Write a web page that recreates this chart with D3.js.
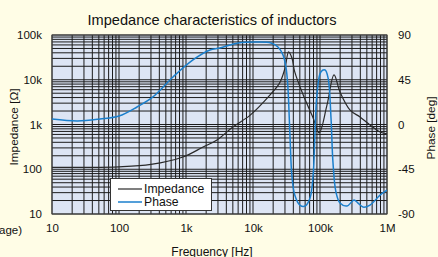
<!DOCTYPE html>
<html>
<head>
<meta charset="utf-8">
<script src="https://cdn.jsdelivr.net/npm/d3@7"></script>
<style>
  html, body { margin: 0; padding: 0; background: #fffde6; }
  svg { display: block; font-family: "Liberation Sans", Arial, sans-serif; }
</style>
</head>
<body>
<div id="chart"></div>
<script>
// Impedance curve [Hz, ohm]
var impFreq = [10, 30, 100, 300, 900, 1800, 2900, 5000, 9000, 18000, 25000, 30000, 34000, 38000, 42000, 56000, 79000, 97000, 127000, 162000, 199000, 281000, 396000, 558000, 787000, 1000000];
var impValue = [110, 110, 113, 128, 188, 314, 450, 880, 1600, 4600, 8500, 18000, 42000, 31000, 15000, 4600, 1400, 650, 2700, 12800, 5300, 2100, 1470, 975, 680, 614];

// Phase curve [Hz, deg]
var phaseFreq = [10, 24, 52, 100, 186, 321, 640, 1270, 2280, 3200, 6000, 11900, 18600, 23600, 28000, 31000, 33000, 35600, 38000, 42000, 50000, 60000, 71000, 79000, 84000, 90000, 103000, 119000, 132000, 146000, 156000, 173000, 199000, 253000, 322000, 369000, 438000, 558000, 787000, 1000000];
var phaseValue = [5.5, 3.5, 5.5, 8.5, 17.6, 27.7, 47.8, 64.9, 74.9, 76.9, 82, 83, 82, 78, 70, 58, 40, -10.6, -50.8, -70.9, -81, -82, -74, -50.8, -10.6, 29.7, 52.8, 54.8, 46.8, 6.5, -37.7, -67.9, -79, -82, -76, -79, -83, -81, -71, -66];

// tick labels
var xTicks = [10, 100, 1e3, 1e4, 1e5, 1e6];
var xTickLabels = ['10', '100', '1k', '10k', '100k', '1M'];
var zTicks = [10, 100, 1e3, 1e4, 1e5];
var zTickLabels = ['10', '100', '1k', '10k', '100k'];
var pTicks = [-90, -45, 0, 45, 90];

var width = 438, height = 257;
var pLeft = 52, pRight = 387, pTop = 35, pBottom = 214;

var svg = d3.select('#chart').append('svg')
    .attr('width', width)
    .attr('height', height);

svg.append('rect')
    .attr('width', width).attr('height', height)
    .attr('fill', '#fffde6');

var x = d3.scaleLog().domain([10, 1e6]).range([pLeft, pRight]);
var yZ = d3.scaleLog().domain([10, 1e5]).range([pBottom, pTop]);
var yP = d3.scaleLinear().domain([-90, 90]).range([pBottom, pTop]);

// plot background
svg.append('rect')
    .attr('x', pLeft).attr('y', pTop)
    .attr('width', pRight - pLeft).attr('height', pBottom - pTop)
    .attr('fill', '#dde5f4');

// log grid
var grid = svg.append('g').attr('stroke', '#1c1c1c').attr('stroke-width', 1);
grid.selectAll('line.v')
    .data(x.ticks())
    .enter().append('line')
      .attr('class', 'v')
      .attr('x1', function(d) { return x(d); })
      .attr('x2', function(d) { return x(d); })
      .attr('y1', pTop).attr('y2', pBottom);
grid.selectAll('line.h')
    .data(yZ.ticks())
    .enter().append('line')
      .attr('class', 'h')
      .attr('y1', function(d) { return yZ(d); })
      .attr('y2', function(d) { return yZ(d); })
      .attr('x1', pLeft).attr('x2', pRight);

svg.append('rect')
    .attr('x', pLeft).attr('y', pTop)
    .attr('width', pRight - pLeft).attr('height', pBottom - pTop)
    .attr('fill', 'none')
    .attr('stroke', '#444');

// curves
svg.append('clipPath').attr('id', 'clip')
  .append('rect')
    .attr('x', pLeft).attr('y', pTop)
    .attr('width', pRight - pLeft).attr('height', pBottom - pTop);

var plot = svg.append('g').attr('clip-path', 'url(#clip)');

var impLine = d3.line()
    .x(function(d, i) { return x(impFreq[i]); })
    .y(function(d) { return yZ(d); })
    .curve(d3.curveCatmullRom.alpha(0.5));

var phaseLine = d3.line()
    .x(function(d, i) { return x(phaseFreq[i]); })
    .y(function(d) { return yP(d); })
    .curve(d3.curveCatmullRom.alpha(0.5));

plot.append('path')
    .attr('d', impLine(impValue))
    .attr('fill', 'none')
    .attr('stroke', '#2a2a2a')
    .attr('stroke-width', 1.2);

plot.append('path')
    .attr('d', phaseLine(phaseValue))
    .attr('fill', 'none')
    .attr('stroke', '#1b7fcc')
    .attr('stroke-width', 1.5);

// axes
var tickFont = '11.5px';

svg.append('g')
    .attr('transform', 'translate(0,' + (pBottom + 7) + ')')
    .call(d3.axisBottom(x).tickValues(xTicks).tickSize(0)
      .tickFormat(function(d, i) { return xTickLabels[i]; }))
    .call(function(g) { g.select('.domain').remove(); })
    .selectAll('text')
      .attr('fill', '#111')
      .style('font-size', tickFont)
      .style('font-family', '"Liberation Sans", Arial, sans-serif');

svg.append('g')
    .attr('transform', 'translate(' + (pLeft - 7) + ',0)')
    .call(d3.axisLeft(yZ).tickValues(zTicks).tickSize(0)
      .tickFormat(function(d, i) { return zTickLabels[i]; }))
    .call(function(g) { g.select('.domain').remove(); })
    .selectAll('text')
      .attr('fill', '#111')
      .style('font-size', tickFont)
      .style('font-family', '"Liberation Sans", Arial, sans-serif');

svg.append('g')
    .attr('transform', 'translate(' + (pRight + 8) + ',0)')
    .call(d3.axisRight(yP).tickValues(pTicks).tickSize(0)
      .tickFormat(function(d) { return d; }))
    .call(function(g) { g.select('.domain').remove(); })
    .selectAll('text')
      .attr('fill', '#111')
      .style('font-size', tickFont)
      .style('font-family', '"Liberation Sans", Arial, sans-serif');

// titles
svg.append('text')
    .attr('x', 212).attr('y', 25)
    .attr('text-anchor', 'middle')
    .attr('font-size', '14.6px')
    .attr('fill', '#111')
    .text('Impedance characteristics of inductors');

svg.append('text')
    .attr('x', 212).attr('y', 256)
    .attr('text-anchor', 'middle')
    .attr('font-size', '12px')
    .attr('fill', '#111')
    .text('Frequency [Hz]');

svg.append('text')
    .attr('transform', 'translate(18,127) rotate(-90)')
    .attr('text-anchor', 'middle')
    .attr('font-size', '11.8px')
    .attr('fill', '#111')
    .text('Impedance [\u03A9]');

svg.append('text')
    .attr('transform', 'translate(435,128) rotate(-90)')
    .attr('text-anchor', 'middle')
    .attr('font-size', '11.8px')
    .attr('fill', '#111')
    .text('Phase [deg]');

svg.append('text')
    .attr('x', 22).attr('y', 234)
    .attr('text-anchor', 'end')
    .attr('font-size', '11.5px')
    .attr('fill', '#111')
    .text('(Voltage)');

// legend
var legend = svg.append('g').attr('transform', 'translate(110,178)');
legend.append('rect')
    .attr('x', 0.5).attr('y', 0.5)
    .attr('width', 101).attr('height', 32)
    .attr('fill', '#fff')
    .attr('stroke', '#333');

var legendItems = [
  { name: 'Impedance', color: '#555' },
  { name: 'Phase', color: '#1b7fcc' }
];
legendItems.forEach(function(d, i) {
  var cy = 11 + i * 13;
  legend.append('line')
      .attr('x1', 8).attr('x2', 32)
      .attr('y1', cy).attr('y2', cy)
      .attr('stroke', d.color)
      .attr('stroke-width', 1.5);
  legend.append('text')
      .attr('x', 34).attr('y', cy + 4)
      .attr('font-size', '12.2px')
      .attr('fill', '#111')
      .text(d.name);
});
</script>
</body>
</html>
